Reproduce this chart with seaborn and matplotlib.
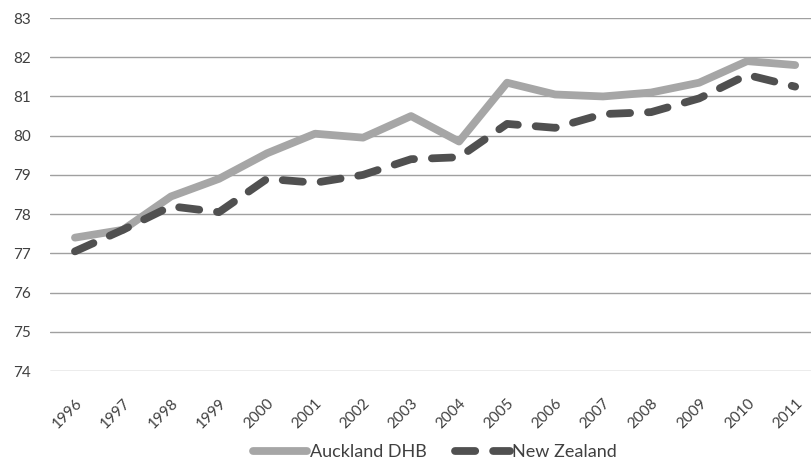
import matplotlib
matplotlib.use("Agg")
import matplotlib.pyplot as plt
import seaborn as sns
import pandas as pd

years = list(range(1996, 2012))
auckland_dhb = [77.4, 77.6, 78.45, 78.9, 79.55, 80.05, 79.95, 80.5, 79.85,
                81.35, 81.05, 81.0, 81.1, 81.35, 81.9, 81.8]
new_zealand = [77.05, 77.6, 78.2, 78.05, 78.9, 78.8, 79.0, 79.4, 79.45,
               80.3, 80.2, 80.55, 80.6, 80.95, 81.55, 81.25]
series_names = ["Auckland DHB", "New Zealand"]
y_ticks = list(range(74, 84))

df = pd.DataFrame({
    "year": years * 2,
    "value": auckland_dhb + new_zealand,
    "series": [series_names[0]] * len(years) + [series_names[1]] * len(years),
})

sns.set_style("white")
plt.rcParams["font.family"] = ["Lato", "DejaVu Sans"]

fig = plt.figure(figsize=(8.11, 4.61), dpi=100)
ax = fig.add_axes([50 / 811, 1 - 371 / 461, 1 - 50 / 811, (371 - 18) / 461])

palette = {series_names[0]: "#a6a6a6", series_names[1]: "#505050"}
lw = 5.6
dash = (2.6, 2.3)
sns.lineplot(data=df, x="year", y="value", hue="series", palette=palette,
             linewidth=lw, ax=ax, legend=False)

lines = ax.get_lines()
for ln in lines:
    ln.set_solid_capstyle("round")
    ln.set_solid_joinstyle("round")
lines[1].set_dashes(dash)
lines[1].set_dash_capstyle("round")
lines[0].set_zorder(3)
lines[1].set_zorder(4)

ax.set_xlim(1995.48, 2011.33)
ax.set_ylim(74, 83)
ax.set_yticks(y_ticks)
ax.set_xticks(years)
ax.set_xticklabels([str(y) for y in years], rotation=45, ha="right",
                   va="top", rotation_mode="anchor", fontsize=11,
                   color="#404040")
ax.tick_params(axis="y", labelsize=11, labelcolor="#404040", length=0, pad=14)
ax.tick_params(axis="x", length=0, pad=18)
ax.set_xlabel("")
ax.set_ylabel("")
ax.grid(axis="y", color="#a0a0a0", linewidth=1.0)
ax.set_axisbelow(True)
for s in ax.spines.values():
    s.set_visible(False)

handles = [
    plt.Line2D([], [], color=palette[series_names[0]], linewidth=lw,
               solid_capstyle="round"),
    plt.Line2D([], [], color=palette[series_names[1]], linewidth=lw,
               dashes=dash, dash_capstyle="round"),
]
fig.legend(handles, series_names, loc="center", ncol=2, frameon=False,
           bbox_to_anchor=(435 / 811, 1 - 452 / 461), fontsize=13,
           handlelength=3.0, handletextpad=0.15, columnspacing=1.6,
           labelcolor="#404040")

fig.savefig("out.png", dpi=100)
